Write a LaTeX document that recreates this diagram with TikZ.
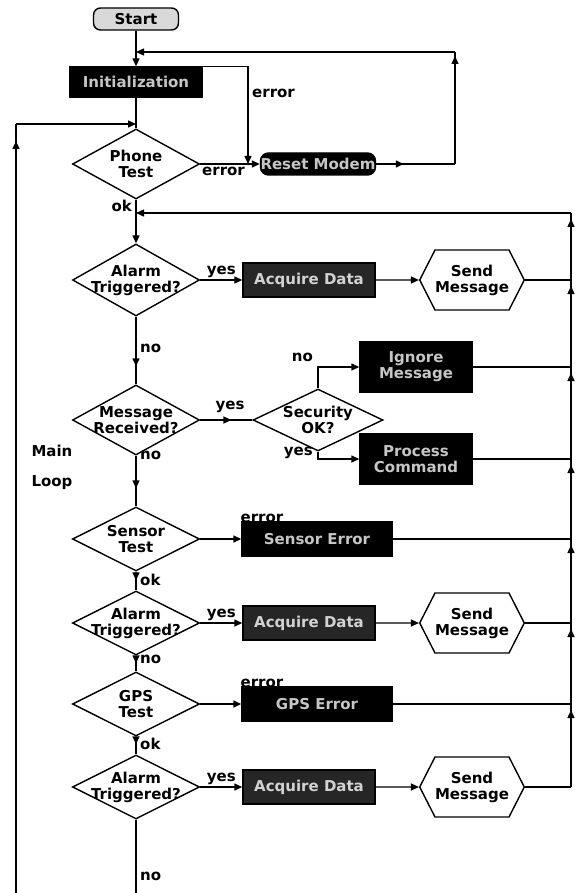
\documentclass[tikz,border=0pt]{standalone}
\usepackage{fontspec}
\setmainfont{DejaVu Sans}
\usetikzlibrary{arrows.meta,shapes.geometric,shapes.symbols,decorations.markings}

\tikzset{
  every node/.style={font=\fontsize{15}{16}\selectfont\bfseries},
  line/.style={line width=1.4pt},
  tipat/.style={line, postaction={decorate},
    decoration={markings, mark=at position #1 with {\arrow{Triangle[length=8pt,width=7pt]}}}},
  decision/.style={draw, line width=1.4pt, diamond, inner sep=0pt,
    minimum width=127pt, minimum height=72pt},
  dtext/.style={align=center, inner sep=0pt},
  darkbox/.style={draw, line width=1.4pt, fill=black, text=gray!45, align=center,
    inner sep=1pt, minimum width=#1, minimum height=34pt},
  sendmsg/.style={draw, line width=1.4pt, signal, signal to=east and west,
    signal pointer angle=126, align=center, inner sep=0pt,
    minimum width=96pt, minimum height=60pt},
  lbl/.style={inner sep=1pt},
}

\begin{document}
\begin{tikzpicture}[x=1pt, y=-1pt, >={Triangle[length=8pt,width=7pt]}]
		\useasboundingbox (0,0) rectangle (576,893);
		% top section
		\node[draw, line width=1.4pt, rounded corners=7pt, fill=gray!30, minimum width=85pt,
			minimum height=22pt, inner sep=0pt] (start) at (136,19) {Start};
		\node[darkbox=133pt, minimum height=30pt] (init) at (136,82) {Initialization};
		\node[decision, minimum height=70pt] (phone) at (136,164) {};
		\node[dtext] (phoneT) at (phone) {Phone\\Test};
		\node[draw, line width=1.4pt, rounded corners=8pt, fill=black, text=gray!45,
			minimum width=110pt, minimum height=22pt, inner sep=0pt] (reset) at (318,164) {Reset Modem};
		% main column
		\node[decision] (alarmA) at (136,280) {};
		\node[dtext] (alarmAT) at (alarmA) {Alarm\\Triggered?};
		\node[decision, minimum height=70pt] (msg) at (136,420) {};
		\node[dtext] (msgT) at (msg) {Message\\Received?};
		\node[decision, minimum width=130pt, minimum height=62pt] (sec) at (318,420) {};
		\node[dtext] (secT) at (sec) {Security\\OK?};
		\node[decision, minimum height=64pt] (sensor) at (136,539) {};
		\node[dtext] (sensorT) at (sensor) {Sensor\\Test};
		\node[decision, minimum height=64pt] (alarmB) at (136,623) {};
		\node[dtext] (alarmBT) at (alarmB) {Alarm\\Triggered?};
		\node[decision, minimum height=64pt] (gps) at (136,704) {};
		\node[dtext] (gpsT) at (gps) {GPS\\Test};
		\node[decision, minimum height=64pt] (alarmC) at (136,787) {};
		\node[dtext] (alarmCT) at (alarmC) {Alarm\\Triggered?};
		% action boxes
		\node[darkbox=132pt, fill=black!85, text=gray!35] (acqA) at (309,280) {Acquire Data};
		\node[darkbox=132pt, fill=black!85, text=gray!35] (acqB) at (309,623) {Acquire Data};
		\node[darkbox=132pt, fill=black!85, text=gray!35] (acqC) at (309,787) {Acquire Data};
		\node[darkbox=112pt, minimum height=50pt] (secNo) at (416,367) {Ignore\\Message};
		\node[darkbox=112pt, minimum height=50pt] (secYes) at (416,459) {Process\\Command};
		\node[darkbox=150pt] (sensErr) at (317,539) {Sensor Error};
		\node[darkbox=150pt] (gpsErr) at (317,704) {GPS Error};
		\node[sendmsg] (sendA) at (472,280) {Send\\Message};
		\node[sendmsg] (sendB) at (472,623) {Send\\Message};
		\node[sendmsg] (sendC) at (472,787) {Send\\Message};
		\node[align=left, font=\fontsize{15}{30}\selectfont\bfseries] (mainloop) at (52,467) {Main\\Loop};

		% joints
		\coordinate (tjoin) at (136,52);
		\coordinate (rt) at (455,52);
		\coordinate (rr) at (455,164);
		\coordinate (errjoin) at (248,164);
		\coordinate (ljoin) at (136,124);
		\coordinate (ltop) at (16,124);
		\coordinate (lbot) at (16,893);
		\coordinate (bot) at (136,893);
		\coordinate (rjoin) at (136,213);
		\coordinate (rtop) at (571,213);
		\coordinate (r1) at (571,280);
		\coordinate (r2) at (571,367);
		\coordinate (r3) at (571,459);
		\coordinate (r4) at (571,539);
		\coordinate (r5) at (571,623);
		\coordinate (r6) at (571,704);
		\coordinate (r7) at (571,787);

		% start and phone test
		\draw[line, ->] (start) -- (init);
		\draw[line] (init) -- (phone);
		\draw[line, ->] (init.north east) -| (errjoin);
		\node[lbl, anchor=west] (errA) at (251,93) {error};
		\draw[line, ->] (phone.east) -- (reset.west);
		\node[lbl, anchor=north west] (errB) at (201,166) {error};
		\draw[tipat=0.35] (reset.east) -- (rr);
		\draw[tipat=-4pt] (rr) -- (rt);
		\draw[line, ->] (rt) -- (tjoin);
		\draw[tipat=-17pt] (lbot) -- (ltop);
		\draw[line, ->] (ltop) -- (ljoin);
		\draw[line, ->] (phone.south) -- (alarmA.north);
		\node[lbl, anchor=east] (okA) at (133,206) {ok};
		\draw[line, ->] (rtop) -- (rjoin);

		% alarm rows
		\foreach \a/\c/\s in {alarmA/acqA/sendA, alarmB/acqB/sendB, alarmC/acqC/sendC} {
			\draw[line, ->] (\a.east) -- (\c.west) node[lbl, midway, above=1pt] {yes};
			\draw[line, ->] (\c) -- (\s);
		}
		\draw[line] (sendA.east) -- (r1);
		\draw[line] (sendB.east) -- (r5);
		\draw[line] (sendC.east) -- (r7);

		% message received
		\draw[tipat=-18pt] (alarmA.south) -- (msg.north);
		\node[lbl, anchor=west] (noA) at (139,348) {no};
		\draw[tipat=0.6] (msg.east) -- (sec.west);
		\node[lbl] (yesM) at (230,407) {yes};
		\draw[line, ->] (sec.north) |- (secNo.west);
		\node[lbl, anchor=east] (noS) at (314,357) {no};
		\draw[line, ->] (sec.south) |- (secYes.west);
		\node[lbl, anchor=east] (yesS) at (314,453) {yes};
		\draw[line] (secNo.east) -- (r2);
		\draw[line] (secYes.east) -- (r3);

		% sensor and gps
		\draw[tipat=-18pt] (msg.south) -- (sensor.north);
		\node[lbl, anchor=west] (noB) at (139,455) {no};
		\draw[line, ->] (sensor.east) -- (sensErr.west);
		\node[lbl] (errC) at (262,518) {error};
		\draw[line] (sensErr.east) -- (r4);
		\draw[tipat=-10pt] (sensor.south) -- (alarmB.north);
		\node[lbl, anchor=west] (okB) at (139,580) {ok};
		\draw[tipat=-8pt] (alarmB.south) -- (gps.north);
		\node[lbl, anchor=west] (noC) at (139,659) {no};
		\draw[line, ->] (gps.east) -- (gpsErr.west);
		\node[lbl] (errD) at (262,683) {error};
		\draw[line] (gpsErr.east) -- (r6);
		\draw[tipat=-10pt] (gps.south) -- (alarmC.north);
		\node[lbl, anchor=west] (okC) at (139,744) {ok};
		\draw[line] (alarmC.south) -- (bot);
		\node[lbl, anchor=west] (noD) at (139,876) {no};

		% right return line
		\foreach \a/\b in {r1/rtop, r2/r1, r3/r2, r4/r3, r5/r4, r6/r5, r7/r6} {
			\draw[tipat=-6pt] (\a) -- (\b);
		}
	\end{tikzpicture}
\end{document}
